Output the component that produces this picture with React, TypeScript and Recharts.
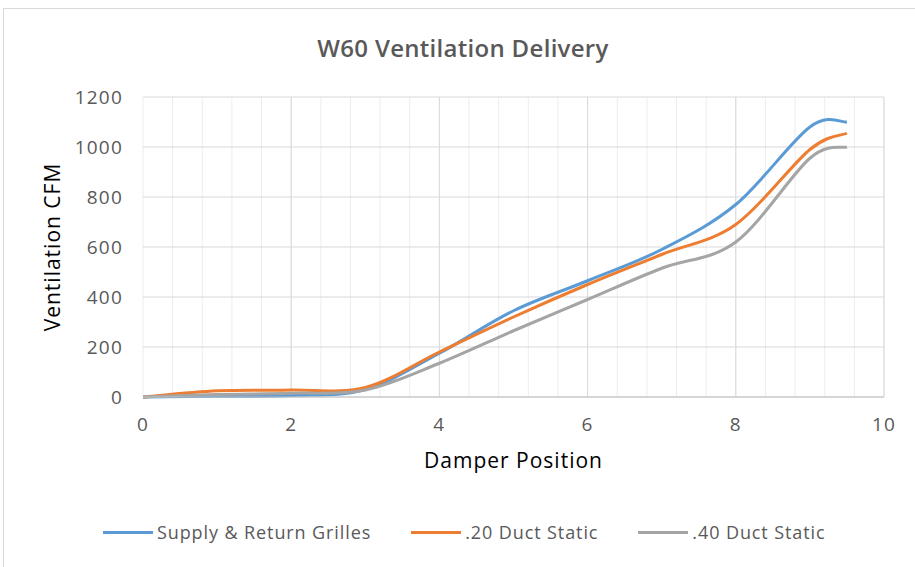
import React from 'react';
import {
  LineChart, Line, XAxis, YAxis, CartesianGrid, ReferenceLine,
} from 'recharts';

// damper positions and measured CFM per series
const POSITIONS = [0, 1, 2, 3, 4, 5, 6, 7, 8, 9, 9.5];
const SUPPLY    = [0, 3, 6, 30, 175, 345, 465, 590, 770, 1080, 1100];
const DUCT_20   = [0, 25, 28, 38, 180, 320, 450, 570, 690, 990, 1055];
const DUCT_40   = [0, 10, 15, 28, 135, 265, 390, 515, 620, 955, 1000];

const X_TICKS = [0, 0.4, 0.8, 1.2, 1.6, 2, 2.4, 2.8, 3.2, 3.6, 4, 4.4, 4.8, 5.2, 5.6, 6,
  6.4, 6.8, 7.2, 7.6, 8, 8.4, 8.8, 9.2, 9.6, 10];
const X_LABELS = [0, 2, 4, 6, 8, 10];
const Y_TICKS = [0, 200, 400, 600, 800, 1000, 1200];

const SERIES = [
  { key: 'supply', name: 'Supply & Return Grilles', color: '#5B9BD5' },
  { key: 'd20',    name: '.20 Duct Static',         color: '#ED7D31' },
  { key: 'd40',    name: '.40 Duct Static',         color: '#A5A5A5' },
];

const data = POSITIONS.map((x, i) => ({ x, supply: SUPPLY[i], d20: DUCT_20[i], d40: DUCT_40[i] }));

// excel-style smoothed line (catmull-rom through the points)
function excelCurve(context: any) {
  let pts: number[][] = [];
  return {
    areaStart() {},
    areaEnd() {},
    lineStart() { pts = []; },
    lineEnd() {
      if (!pts.length) return;
      context.moveTo(pts[0][0], pts[0][1]);
      for (let i = 0; i < pts.length - 1; i++) {
        const p0 = pts[Math.max(i - 1, 0)];
        const p1 = pts[i];
        const p2 = pts[i + 1];
        const p3 = pts[Math.min(i + 2, pts.length - 1)];
        context.bezierCurveTo(
          p1[0] + (p2[0] - p0[0]) / 6, p1[1] + (p2[1] - p0[1]) / 6,
          p2[0] - (p3[0] - p1[0]) / 6, p2[1] - (p3[1] - p1[1]) / 6,
          p2[0], p2[1],
        );
      }
    },
    point(x: number, y: number) { pts.push([+x, +y]); },
  };
}

const FONT = '"Open Sans", "Noto Sans", sans-serif';
const tickStyle = { fill: '#595959', fontSize: 19, fontFamily: FONT, letterSpacing: 1.2 };

export default function App() {
  return (
    <div style={{ position: 'fixed', left: 0, top: 0, width: 915, height: 567, background: '#fff', overflow: 'hidden', fontFamily: FONT }}>
      <div style={{ position: 'absolute', left: 3, top: 8, width: 920, height: 600, border: '1px solid #d9d9d9' }} />
      <div style={{ position: 'absolute', left: 0, top: 31, width: 926, textAlign: 'center', fontSize: 24, fontWeight: 600, color: '#595959', letterSpacing: 0.3 }}>
        W60 Ventilation Delivery
      </div>
      <div style={{ position: 'absolute', left: 0, top: 0 }}>
        <LineChart width={915} height={567} data={data} margin={{ top: 97, right: 31, bottom: 70, left: 0 }}>
          <CartesianGrid horizontal={false} stroke="#ededed" strokeWidth={1} />
          <CartesianGrid vertical={false} stroke="#d9d9d9" strokeWidth={1} />
          {X_LABELS.slice(1).map(v => (
            <ReferenceLine key={v} x={v} stroke="#d9d9d9" />
          ))}
          <XAxis
            dataKey="x"
            type="number"
            domain={[0, 10]}
            ticks={X_TICKS}
            interval={0}
            tickFormatter={v => (X_LABELS.includes(v) ? String(v) : '')}
            tick={tickStyle}
            tickLine={false}
            tickSize={0}
            tickMargin={21}
            axisLine={{ stroke: '#bfbfbf' }}
            height={100}
            label={{ value: 'Damper Position', position: 'insideTop', offset: 56, fill: '#000', fontSize: 21, fontFamily: FONT, letterSpacing: 1 }}
          />
          <YAxis
            type="number"
            domain={[0, 1200]}
            ticks={Y_TICKS}
            interval={0}
            tick={tickStyle}
            tickLine={false}
            tickSize={0}
            tickMargin={20}
            axisLine={false}
            width={143}
            label={{ value: 'Ventilation CFM', angle: -90, position: 'insideLeft', offset: 53, fill: '#000', fontSize: 21, fontFamily: FONT, letterSpacing: 1, style: { textAnchor: 'middle' } }}
          />
          {SERIES.map(s => (
            <Line
              key={s.key}
              dataKey={s.key}
              name={s.name}
              type={excelCurve as any}
              stroke={s.color}
              strokeWidth={3}
              dot={false}
              activeDot={false}
              isAnimationActive={false}
            />
          ))}
        </LineChart>
      </div>
      <div style={{ position: 'absolute', left: 103, top: 520, display: 'flex', alignItems: 'center', gap: 40, fontSize: 18, letterSpacing: 0.9, color: '#595959' }}>
        {SERIES.map(s => (
          <div key={s.key} style={{ display: 'flex', alignItems: 'center' }}>
            <span style={{ display: 'inline-block', width: 50, height: 3, background: s.color, marginRight: 4 }} />
            <span>{s.name}</span>
          </div>
        ))}
      </div>
    </div>
  );
}
